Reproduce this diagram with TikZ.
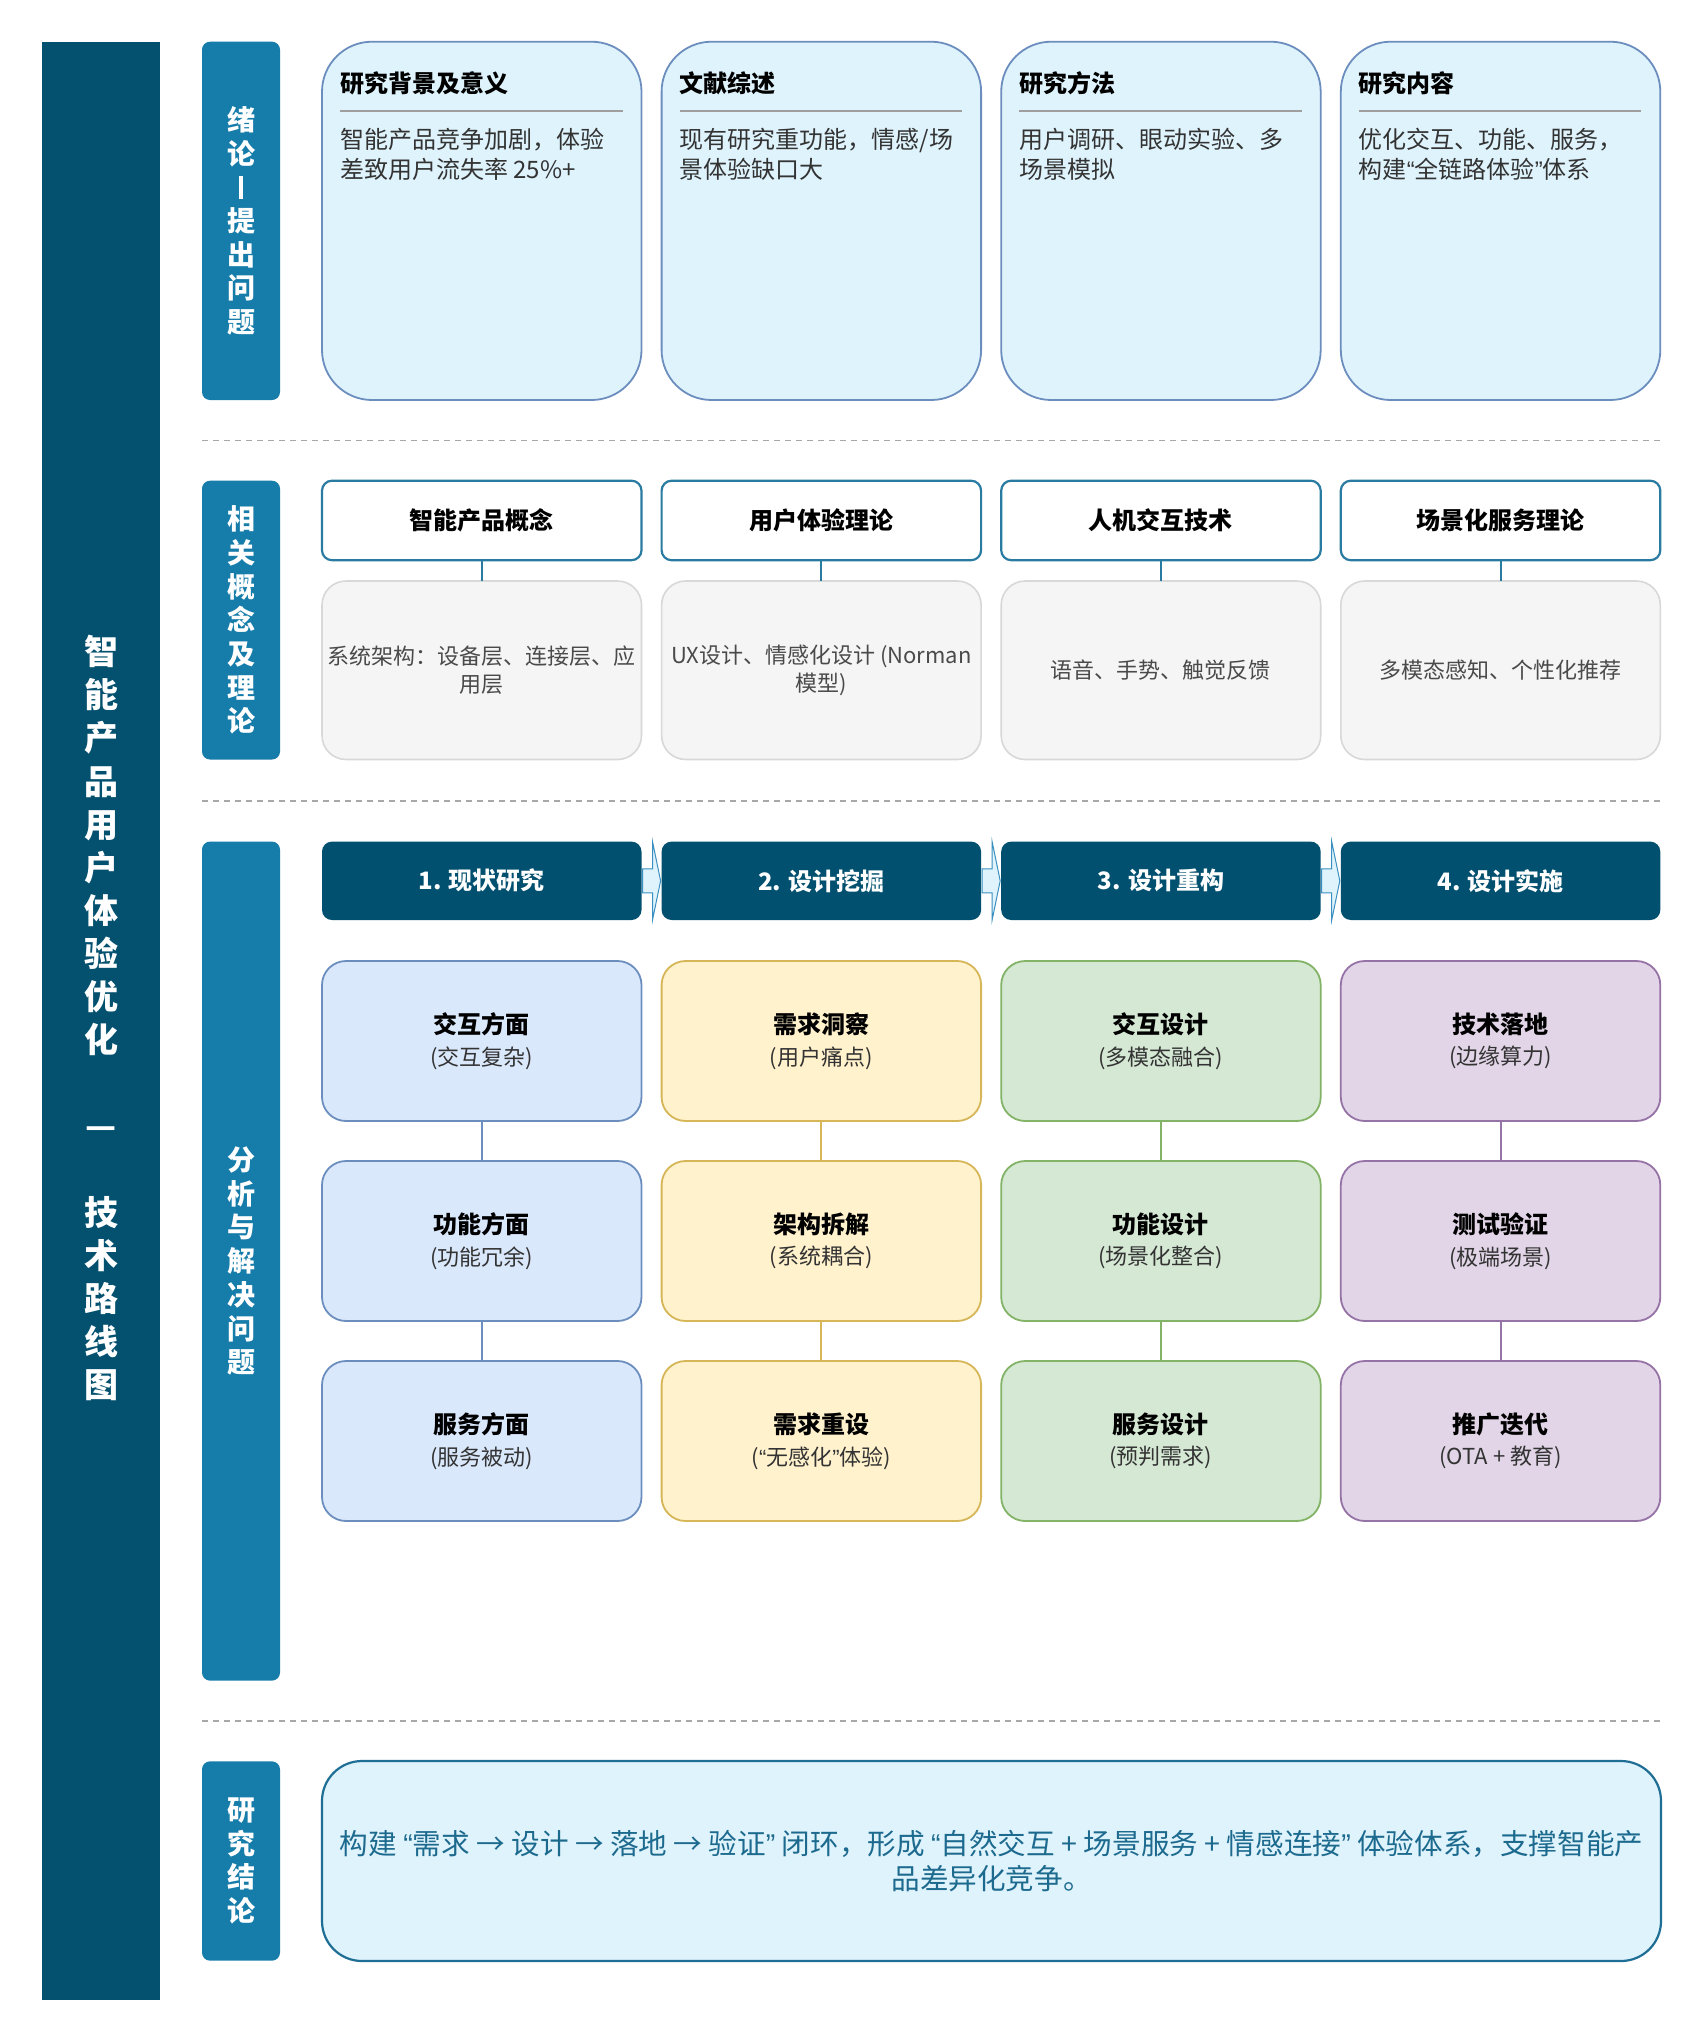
\documentclass[tikz,border=0pt]{standalone}
\usepackage{fontspec}
\setmainfont{Noto Sans CJK SC}
\newfontfamily\latinfont{Liberation Sans}
\newcommand\qopen{{\latinfont “}}
\newcommand\qclose{{\latinfont ”}}
\usetikzlibrary{calc}
\definecolor{leftcol}{HTML}{04506F}
\definecolor{seccol}{HTML}{167CAA}
\definecolor{sepcol}{HTML}{A8A8A8}
\definecolor{paleblue}{HTML}{DFF3FC}
\definecolor{topborder}{HTML}{6C8EBF}
\definecolor{bodycol}{HTML}{333333}
\definecolor{tealline}{HTML}{2A7BA1}
\definecolor{detfill}{HTML}{F5F5F5}
\definecolor{detborder}{HTML}{D8D8D8}
\definecolor{dettext}{HTML}{4A4A4A}
\definecolor{phasecol}{HTML}{02506F}
\definecolor{arrowline}{HTML}{3A90C0}
\definecolor{cellAfill}{HTML}{DAE8FC}\definecolor{cellAline}{HTML}{6C8EBF}
\definecolor{cellBfill}{HTML}{FFF2CC}\definecolor{cellBline}{HTML}{D6B656}
\definecolor{cellCfill}{HTML}{D5E8D4}\definecolor{cellCline}{HTML}{82B366}
\definecolor{cellDfill}{HTML}{E1D5E7}\definecolor{cellDline}{HTML}{9673A6}
\definecolor{subcol}{HTML}{333333}
\definecolor{concline}{HTML}{1F6E95}
\definecolor{conctext}{HTML}{1D6A8F}
\newcommand\celltext[2]{{\fontsize{24}{31.6}\selectfont\bfseries #1}\\{\color{subcol}#2}}
\tikzset{
  every node/.style={inner sep=0pt, outer sep=0pt},
  leftbarbox/.style={fill=leftcol, minimum width=118.5pt, minimum height=1958.3pt},
  secbar/.style={fill=seccol, rounded corners=8pt, minimum width=78pt},
  seclabel/.style={text=white, align=center, font=\fontsize{28}{33.7}\selectfont\bfseries},
  sepline/.style={draw=sepcol, line width=1.6pt, dash pattern=on 6pt off 5pt},
  topbox/.style={fill=paleblue, draw=topborder, line width=1.8pt, rounded corners=50pt, minimum width=319.5pt, minimum height=358.3pt},
  toptitle/.style={anchor=west, font=\fontsize{24}{30}\selectfont\bfseries, text=black},
  topbody/.style={anchor=west, align=left, font=\fontsize{24}{30}\selectfont, text=bodycol},
  titlerule/.style={draw=gray!75, line width=2pt},
  hdrbox/.style={fill=white, draw=tealline, line width=2.2pt, rounded corners=10pt, minimum width=319.5pt, minimum height=79.5pt, font=\fontsize{24}{30}\selectfont\bfseries, text=black},
  detbox/.style={fill=detfill, draw=detborder, line width=1.6pt, rounded corners=24pt, minimum width=319.5pt, minimum height=178.5pt, align=center, font=\fontsize{22}{28.7}\selectfont, text=dettext},
  hdrlink/.style={draw=tealline, line width=2pt},
  phasebox/.style={fill=phasecol, rounded corners=10pt, minimum width=319.5pt, minimum height=78.4pt, font=\fontsize{24}{30}\selectfont\bfseries, text=white},
  flowarrow/.style={fill=paleblue, draw=arrowline, line width=1pt, line join=miter},
  cellbox/.style={rounded corners=24pt, line width=1.8pt, minimum width=319.5pt, minimum height=160pt, align=center, text=black, font=\fontsize{22}{31.6}\selectfont},
  cellA/.style={cellbox, fill=cellAfill, draw=cellAline},
  cellB/.style={cellbox, fill=cellBfill, draw=cellBline},
  cellC/.style={cellbox, fill=cellCfill, draw=cellCline},
  cellD/.style={cellbox, fill=cellDfill, draw=cellDline},
  conclbox/.style={fill=paleblue, draw=concline, line width=2.2pt, rounded corners=40pt, minimum width=1339pt, minimum height=200pt},
  concltext/.style={align=center, text=conctext, font=\fontsize{28.6}{35}\selectfont},
}
\begin{document}
\begin{tikzpicture}[x=1pt,y=-1pt]
\useasboundingbox (0,0) rectangle (1704,2042);
\fill[white] (0,0) rectangle (1704,2042);

% left title bar
\node[leftbarbox] (leftbar) at (101,1020.85) {};
\node[text=white, align=center, font=\fontsize{34}{43.1}\selectfont\bfseries] (maintitle) at (101,1018) {智\\能\\产\\品\\用\\户\\体\\验\\优\\化\\\mbox{}\\—\\\mbox{}\\技\\术\\路\\线\\图};

% section bars
\node[secbar, minimum height=358.3pt] (s1) at (241,220.85) {};
\node[seclabel] (s1t) at (241,220.85) {绪\\论\\\rule[-1.5pt]{4pt}{23pt}\\提\\出\\问\\题};
\node[secbar, minimum height=278.8pt] (s2) at (241,620.1) {};
\node[seclabel] (s2t) at (241,620.1) {相\\关\\概\\念\\及\\理\\论};
\node[secbar, minimum height=839pt] (s3) at (241,1261.1) {};
\node[seclabel] (s3t) at (241,1261.1) {分\\析\\与\\解\\决\\问\\题};
\node[secbar, minimum height=199.3pt] (s4) at (241,1861) {};
\node[seclabel] (s4t) at (241,1861) {研\\究\\结\\论};

% separators
\coordinate (d1a) at (202,440.5); \coordinate (d1b) at (1661,440.5);
\coordinate (d2a) at (202,801.2); \coordinate (d2b) at (1661,801.2);
\coordinate (d3a) at (202,1721); \coordinate (d3b) at (1661,1721);
\draw[sepline] (d1a) -- (d1b);
\draw[sepline] (d2a) -- (d2b);
\draw[sepline] (d3a) -- (d3b);

% row 1
\node[topbox] (t1) at (481.75,220.85) {};
\node[topbox] (t2) at (821.35,220.85) {};
\node[topbox] (t3) at (1160.95,220.85) {};
\node[topbox] (t4) at (1500.55,220.85) {};
\node[toptitle] (t1h) at ($(t1.north west)+(18,41.7)$) {研究背景及意义};
\node[toptitle] (t2h) at ($(t2.north west)+(18,41.7)$) {文献综述};
\node[toptitle] (t3h) at ($(t3.north west)+(18,41.7)$) {研究方法};
\node[toptitle] (t4h) at ($(t4.north west)+(18,41.7)$) {研究内容};
\foreach \t in {t1,t2,t3,t4}{
  \draw[titlerule] ($(\t.north west)+(18,69)$) -- ($(\t.north east)+(-19,69)$);
}
\node[topbody] (t1b) at ($(t1.north west)+(18,112.7)$) {智能产品竞争加剧，体验\\差致用户流失率 25\%+};
\node[topbody] (t2b) at ($(t2.north west)+(18,112.7)$) {现有研究重功能，情感/场\\景体验缺口大};
\node[topbody] (t3b) at ($(t3.north west)+(18,112.7)$) {用户调研、眼动实验、多\\场景模拟};
\node[topbody] (t4b) at ($(t4.north west)+(18,112.7)$) {优化交互、功能、服务，\\构建\qopen 全链路体验\qclose 体系};

% row 2
\node[hdrbox] (h1) at (481.75,520.45) {智能产品概念};
\node[hdrbox] (h2) at (821.35,520.45) {用户体验理论};
\node[hdrbox] (h3) at (1160.95,520.45) {人机交互技术};
\node[hdrbox] (h4) at (1500.55,520.45) {场景化服务理论};
\node[detbox] (e1) at (481.75,670.25) {系统架构：设备层、连接层、应\\用层};
\node[detbox] (e2) at (821.35,670.25) {UX设计、情感化设计 (Norman\\模型)};
\node[detbox] (e3) at (1160.95,670.25) {语音、手势、触觉反馈};
\node[detbox] (e4) at (1500.55,670.25) {多模态感知、个性化推荐};
\foreach \i in {1,2,3,4}{ \draw[hdrlink] (h\i.south) -- (e\i.north); }

% row 3 phases
\node[phasebox] (p1) at (481.75,880.8) {1. 现状研究};
\node[phasebox] (p2) at (821.35,880.8) {2. 设计挖掘};
\node[phasebox] (p3) at (1160.95,880.8) {3. 设计重构};
\node[phasebox] (p4) at (1500.55,880.8) {4. 设计实施};
\foreach \a/\b in {p1/p2,p2/p3,p3/p4}{
  \draw[flowarrow] ($(\a.east)+(1,-12)$) -- ($(\a.east)+(11,-12)$) -- ($(\a.north east)+(11,0)$)
    -- ($(\b.west)+(-1,0)$) -- ($(\a.south east)+(11,0)$) -- ($(\a.east)+(11,12)$) -- ($(\a.east)+(1,12)$) -- cycle;
}

% row 3 cells
\node[cellA] (a1) at (481.75,1041) {\celltext{交互方面}{(交互复杂)}};
\node[cellA] (a2) at (481.75,1241) {\celltext{功能方面}{(功能冗余)}};
\node[cellA] (a3) at (481.75,1441) {\celltext{服务方面}{(服务被动)}};
\node[cellB] (b1) at (821.35,1041) {\celltext{需求洞察}{(用户痛点)}};
\node[cellB] (b2) at (821.35,1241) {\celltext{架构拆解}{(系统耦合)}};
\node[cellB] (b3) at (821.35,1441) {\celltext{需求重设}{(\qopen 无感化\qclose 体验)}};
\node[cellC] (c1) at (1160.95,1041) {\celltext{交互设计}{(多模态融合)}};
\node[cellC] (c2) at (1160.95,1241) {\celltext{功能设计}{(场景化整合)}};
\node[cellC] (c3) at (1160.95,1441) {\celltext{服务设计}{(预判需求)}};
\node[cellD] (g1) at (1500.55,1041) {\celltext{技术落地}{(边缘算力)}};
\node[cellD] (g2) at (1500.55,1241) {\celltext{测试验证}{(极端场景)}};
\node[cellD] (g3) at (1500.55,1441) {\celltext{推广迭代}{(OTA + 教育)}};
\draw[draw=cellAline, line width=2pt] (a1.south) -- (a2.north) (a2.south) -- (a3.north);
\draw[draw=cellBline, line width=2pt] (b1.south) -- (b2.north) (b2.south) -- (b3.north);
\draw[draw=cellCline, line width=2pt] (c1.south) -- (c2.north) (c2.south) -- (c3.north);
\draw[draw=cellDline, line width=2pt] (g1.south) -- (g2.north) (g2.south) -- (g3.north);

% conclusion
\node[conclbox] (concl) at (991.5,1861) {};
\node[concltext] (concltxt) at (concl.center) {构建 \qopen 需求 → 设计 → 落地 → 验证\qclose\ 闭环，形成 \qopen 自然交互 + 场景服务 + 情感连接\qclose\ 体验体系，支撑智能产\\品差异化竞争。};
\end{tikzpicture}
\end{document}
